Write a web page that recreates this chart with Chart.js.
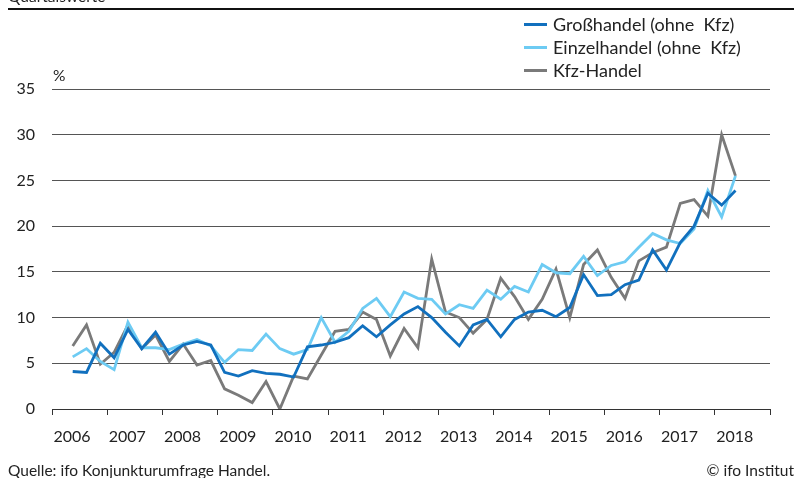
<!DOCTYPE html>
<html><head><meta charset="utf-8">
<script src="https://cdn.jsdelivr.net/npm/chart.js@4/dist/chart.umd.min.js"></script>
<style>
html,body{margin:0;padding:0;background:#fff;}
body{width:794px;height:478px;position:relative;overflow:hidden;font-family:"Source Sans Pro",Lato,"Noto Sans",sans-serif;color:#222;}
#wrap{position:absolute;left:0;top:0;width:794px;height:478px;}
.t{position:absolute;white-space:pre;font-size:15.5px;line-height:18px;}
.l{font-size:18px;line-height:20px;}
#rule{position:absolute;left:8px;right:0;top:8px;height:2px;background:#111;}
.lg{position:absolute;left:524px;width:23px;height:3px;}
</style></head><body>
<div id="wrap"><canvas id="c" width="794" height="478"></canvas></div>
<div class="t" style="left:8px;top:-13px;">Quartalswerte</div>
<div id="rule"></div>
<div class="lg" style="top:23px;background:#1170BE"></div><div class="t l" style="left:553px;top:14px;">Großhandel (ohne  Kfz)</div>
<div class="lg" style="top:46px;background:#6DCBF3"></div><div class="t l" style="left:553px;top:37px;">Einzelhandel (ohne  Kfz)</div>
<div class="lg" style="top:69px;background:#7A7A7A"></div><div class="t l" style="left:553px;top:60px;">Kfz-Handel</div>
<div class="t" style="left:53px;top:66px;">%</div>
<div class="t" style="left:8px;top:461px;">Quelle: ifo Konjunkturumfrage Handel.</div>
<div class="t" style="right:0px;top:461px;">© ifo Institut</div>
<script>
const quarters = [
 "2006Q2","2006Q3","2006Q4",
 "2007Q1","2007Q2","2007Q3","2007Q4",
 "2008Q1","2008Q2","2008Q3","2008Q4",
 "2009Q1","2009Q2","2009Q3","2009Q4",
 "2010Q1","2010Q2","2010Q3","2010Q4",
 "2011Q1","2011Q2","2011Q3","2011Q4",
 "2012Q1","2012Q2","2012Q3","2012Q4",
 "2013Q1","2013Q2","2013Q3","2013Q4",
 "2014Q1","2014Q2","2014Q3","2014Q4",
 "2015Q1","2015Q2","2015Q3","2015Q4",
 "2016Q1","2016Q2","2016Q3","2016Q4",
 "2017Q1","2017Q2","2017Q3","2017Q4",
 "2018Q1","2018Q2"];
const years = ["2006","2007","2008","2009","2010","2011","2012","2013","2014","2015","2016","2017","2018"];
const grosshandel = [4.1,4.0,7.2,5.6,8.7,6.6,8.4,6.0,7.0,7.4,7.0,4.0,3.6,4.2,3.9,3.8,3.5,6.8,7.0,7.3,7.8,9.1,7.9,9.2,10.4,11.2,10.0,8.4,6.9,9.2,9.8,7.9,9.8,10.6,10.8,10.1,11.1,14.7,12.4,12.5,13.6,14.1,17.4,15.2,18.2,20.0,23.6,22.3,23.9];
const einzelhandel = [5.7,6.6,5.2,4.3,9.5,6.7,6.7,6.5,7.1,7.6,6.9,5.1,6.5,6.4,8.2,6.6,6.0,6.5,10.0,7.3,8.5,11.0,12.1,10.1,12.8,12.1,12.0,10.4,11.4,11.0,13.0,12.0,13.4,12.8,15.8,14.9,14.8,16.7,14.6,15.7,16.1,17.7,19.2,18.5,18.1,19.7,23.9,21.0,25.5];
const kfzhandel = [6.9,9.2,4.9,6.2,9.2,6.6,8.1,5.2,7.1,4.8,5.3,2.2,1.5,0.7,3.0,0.0,3.6,3.3,5.9,8.5,8.7,10.6,9.8,5.8,8.8,6.7,16.4,10.6,10.0,8.3,9.8,14.3,12.3,9.8,12.0,15.3,10.0,15.8,17.4,14.4,12.1,16.2,17.1,17.7,22.5,22.9,21.1,30.0,25.5];
const yTicks = [0,5,10,15,20,25,30,35];

const firstYear = +years[0];
function qpos(q){ return (+q.slice(0,4)-firstYear)*4 + (+q.slice(5)-1) + 0.5; }
function pts(arr){ return arr.map((v,i)=>({x:qpos(quarters[i]), y:v})); }
const FONT = '"Source Sans Pro",Lato,"Noto Sans",sans-serif';
const LABEL_OFF = 1.45;

new Chart(document.getElementById('c'), {
  type:'line',
  data:{datasets:[
    {label:'Großhandel (ohne  Kfz)', data:pts(grosshandel), borderColor:'#1170BE', borderWidth:2.8},
    {label:'Einzelhandel (ohne  Kfz)', data:pts(einzelhandel), borderColor:'#6DCBF3', borderWidth:2.8},
    {label:'Kfz-Handel', data:pts(kfzhandel), borderColor:'#7A7A7A', borderWidth:2.8}
  ]},
  options:{
    responsive:false, animation:false,
    layout:{padding:{left:0,right:24,top:89,bottom:0}},
    elements:{point:{radius:0}, line:{tension:0}},
    plugins:{legend:{display:false}, tooltip:{enabled:false}},
    scales:{
      x:{type:'linear', min:0, max:years.length*4,
        afterBuildTicks:(s)=>{ const t=[]; for(let i=0;i<=years.length;i++){ t.push({value:i*4, mark:true}); if(i<years.length) t.push({value:i*4+LABEL_OFF, label:years[i]}); } s.ticks=t; },
        afterFit:(s)=>{ s.height=69; },
        ticks:{autoSkip:false, maxRotation:0, padding:12, color:'#222', font:{family:FONT,size:16},
          callback:function(v,i,ticks){ return ticks[i].label || ''; }},
        grid:{drawOnChartArea:false, drawTicks:true, tickLength:6, lineWidth:1,
          color:(ctx)=> (ctx.tick && ctx.tick.mark) ? '#333' : 'rgba(0,0,0,0)'},
        border:{display:true, color:'#333', width:1}
      },
      y:{min:0, max:35,
        afterBuildTicks:(s)=>{ s.ticks = yTicks.map(v=>({value:v})); },
        afterFit:(s)=>{ s.width=52; },
        ticks:{padding:17, color:'#222', font:{family:FONT,size:16}},
        grid:{drawTicks:false, color:'#555', lineWidth:1},
        border:{display:false}
      }
    }
  }
});
</script>
</body></html>
